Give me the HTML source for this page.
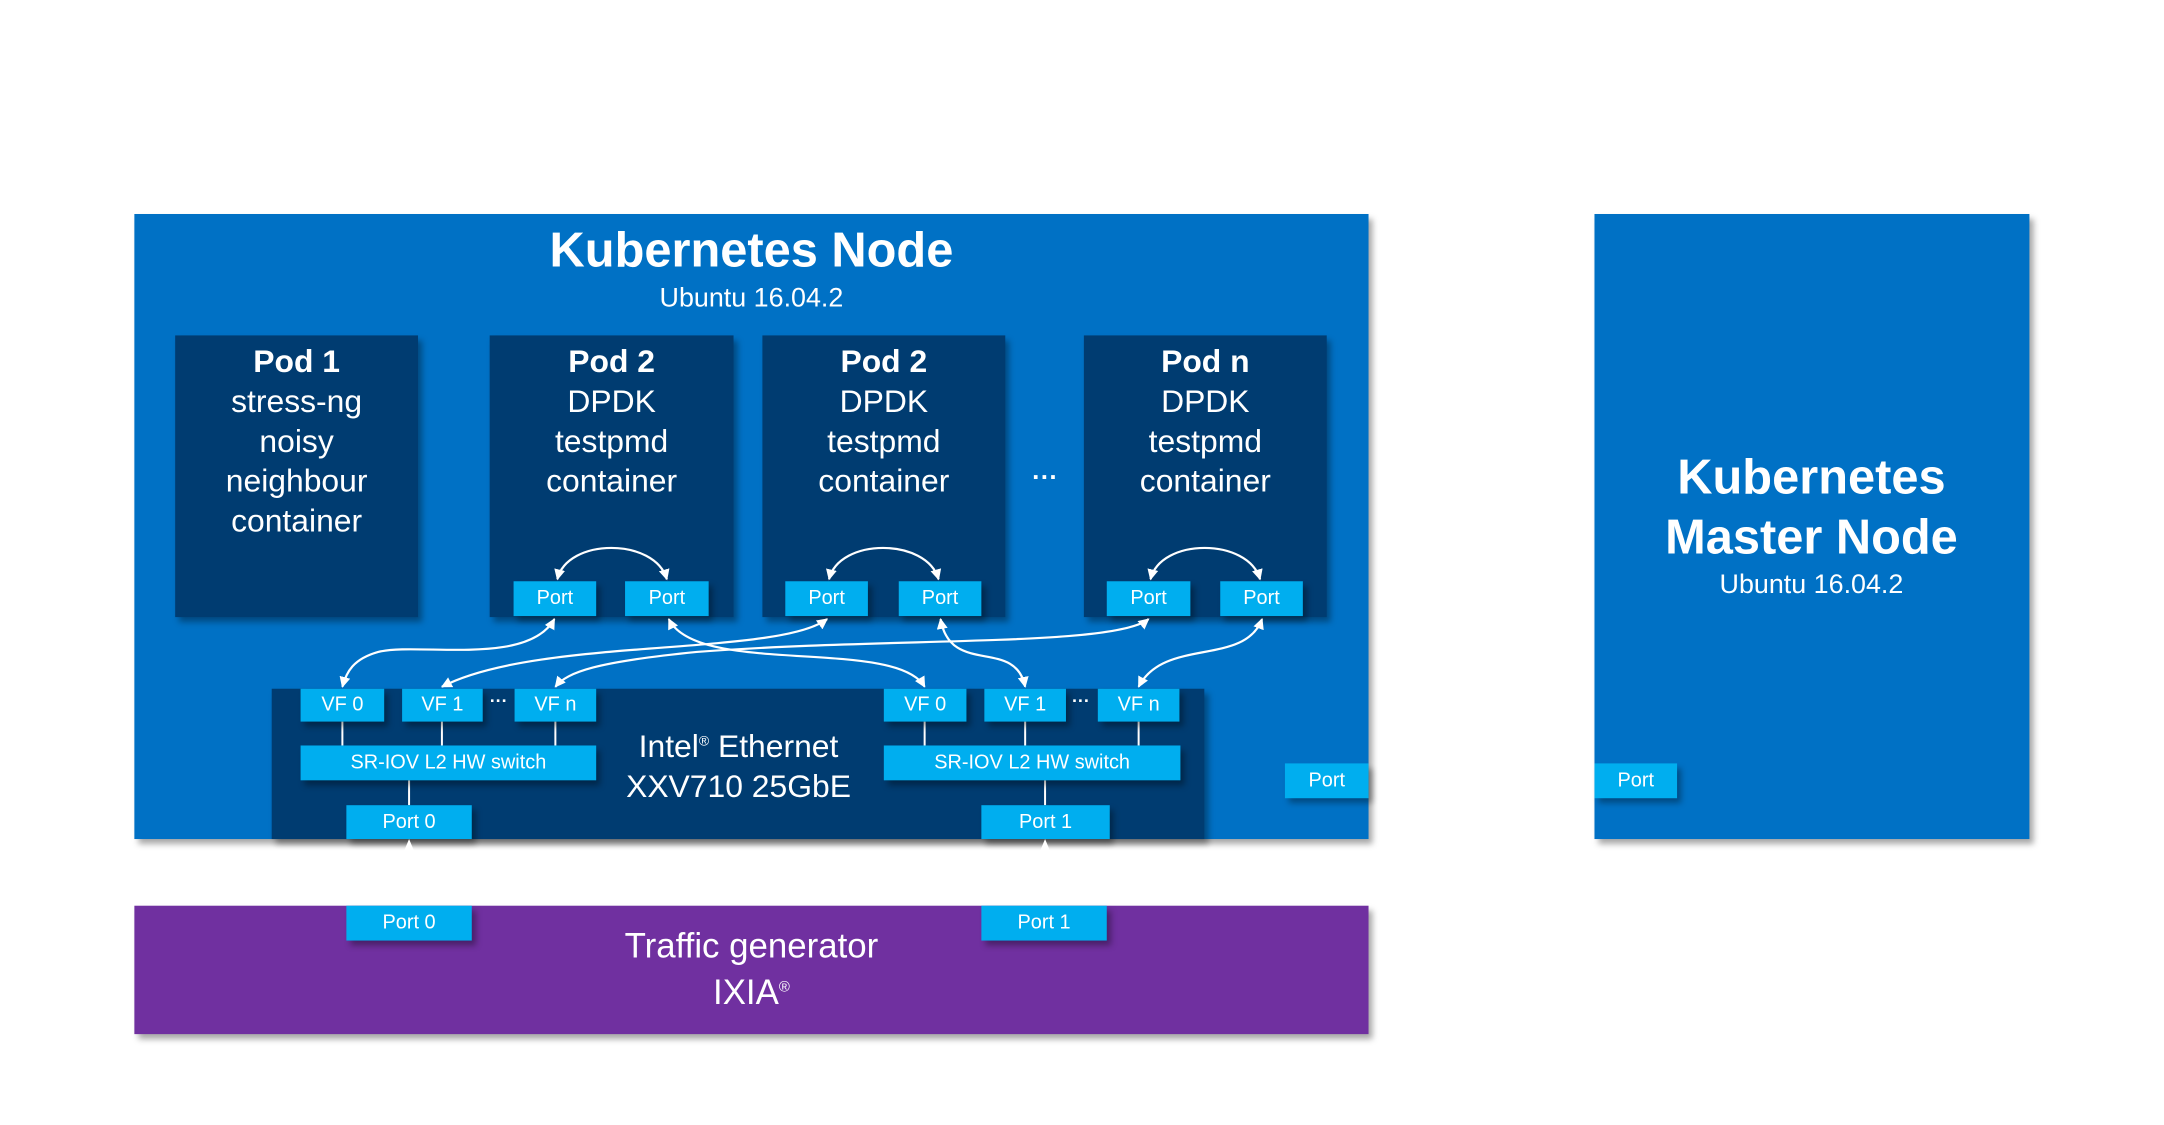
<!DOCTYPE html>
<html><head><meta charset="utf-8"><style>
body{margin:0;width:2164px;height:1125px;background:#fff;position:relative;overflow:hidden;font-family:"Liberation Sans",sans-serif;color:#fff}
#w{position:absolute;left:0;top:0;width:2164px;height:1125px;transform:scale(0.9953);transform-origin:0 0}
.b{position:absolute;box-sizing:border-box}
.sh{box-shadow:4px 5px 6px rgba(0,0,0,.35)}
.node{background:#0071c5}
.dk{background:#003c71}
.p{background:#00aeef;display:flex;align-items:center;justify-content:center;font-size:20px}
.t{position:absolute;text-align:center;white-space:nowrap;transform:translateX(-50%)}
.pod{text-align:center;font-size:32px;line-height:40px;padding-top:6px}
</style></head><body><div id="w">
<div class="b node sh" style="left:135px;top:215px;width:1240px;height:628px"></div>
<div class="t" style="left:755px;top:224px;font-size:49px;font-weight:bold">Kubernetes Node</div>
<div class="t" style="left:755px;top:284px;font-size:27px">Ubuntu 16.04.2</div>

<div class="b dk sh pod" style="left:176px;top:337px;width:244px;height:283px"><b>Pod 1</b><br>stress-ng<br>noisy<br>neighbour<br>container</div>
<div class="b dk sh pod" style="left:492px;top:337px;width:245px;height:283px"><b>Pod 2</b><br>DPDK<br>testpmd<br>container</div>
<div class="b dk sh pod" style="left:766px;top:337px;width:244px;height:283px"><b>Pod 2</b><br>DPDK<br>testpmd<br>container</div>
<div class="b dk sh pod" style="left:1089px;top:337px;width:244px;height:283px"><b>Pod n</b><br>DPDK<br>testpmd<br>container</div>
<div class="t" style="left:1050px;top:464px;font-size:26px;font-weight:bold">···</div>

<div class="b p sh" style="left:516px;top:584px;width:83px;height:35px">Port</div>
<div class="b p sh" style="left:628px;top:584px;width:84px;height:35px">Port</div>
<div class="b p sh" style="left:789px;top:584px;width:83px;height:35px">Port</div>
<div class="b p sh" style="left:903px;top:584px;width:83px;height:35px">Port</div>
<div class="b p sh" style="left:1112px;top:584px;width:84px;height:35px">Port</div>
<div class="b p sh" style="left:1226px;top:584px;width:83px;height:35px">Port</div>

<div class="b dk sh" style="left:273px;top:692px;width:937px;height:151px"></div>
<svg class="b" style="left:0;top:0" width="2164" height="1125">
<g stroke="#fff" stroke-width="2">
<line x1="344" y1="725" x2="344" y2="749"/><line x1="444" y1="725" x2="444" y2="749"/><line x1="558" y1="725" x2="558" y2="749"/>
<line x1="929" y1="725" x2="929" y2="749"/><line x1="1030" y1="725" x2="1030" y2="749"/><line x1="1144" y1="725" x2="1144" y2="749"/>
<line x1="411" y1="784" x2="411" y2="809"/><line x1="1050" y1="784" x2="1050" y2="809"/>
</g>
</svg>
<div class="b p sh" style="left:302px;top:692px;width:84px;height:33px">VF 0</div>
<div class="b p sh" style="left:404px;top:692px;width:81px;height:33px">VF 1</div>
<div class="b p sh" style="left:517px;top:692px;width:82px;height:33px">VF n</div>
<div class="b p sh" style="left:888px;top:692px;width:83px;height:33px">VF 0</div>
<div class="b p sh" style="left:989px;top:692px;width:82px;height:33px">VF 1</div>
<div class="b p sh" style="left:1103px;top:692px;width:82px;height:33px">VF n</div>
<div class="t" style="left:501px;top:694px;font-size:18px;font-weight:bold">···</div>
<div class="t" style="left:1086px;top:694px;font-size:18px;font-weight:bold">···</div>
<div class="b p sh" style="left:302px;top:749px;width:297px;height:35px">SR-IOV L2 HW switch</div>
<div class="b p sh" style="left:888px;top:749px;width:298px;height:35px">SR-IOV L2 HW switch</div>
<div class="b p sh" style="left:348px;top:809px;width:126px;height:34px">Port 0</div>
<div class="b p sh" style="left:986px;top:809px;width:129px;height:34px">Port 1</div>
<div class="t" style="left:742px;top:724px;font-size:32px;line-height:40px">Intel<sup style="font-size:14px">®</sup> Ethernet<br>XXV710 25GbE</div>
<div class="b p sh" style="left:1291px;top:767px;width:84px;height:35px">Port</div>

<div class="b node sh" style="left:1602px;top:215px;width:437px;height:628px"></div>
<div class="t" style="left:1820px;top:450px;font-size:49px;font-weight:bold;line-height:60px">Kubernetes<br>Master Node</div>
<div class="t" style="left:1820px;top:572px;font-size:27px">Ubuntu 16.04.2</div>
<div class="b p sh" style="left:1602px;top:767px;width:83px;height:35px">Port</div>

<div class="b sh" style="left:135px;top:910px;width:1240px;height:129px;background:#7030a0"></div>
<div class="b p sh" style="left:348px;top:910px;width:126px;height:35px">Port 0</div>
<div class="b p sh" style="left:986px;top:910px;width:126px;height:35px">Port 1</div>
<div class="t" style="left:755px;top:930px;font-size:35px;line-height:41px">Traffic generator<br>IXIA<sup style="font-size:15px">®</sup></div>

<svg class="b" style="left:0;top:0" width="2164" height="1125">
<defs><marker id="a" viewBox="0 0 10 10" refX="9" refY="5" markerWidth="5" markerHeight="5" orient="auto-start-reverse"><path d="M0,0L10,5L0,10z" fill="#fff"/></marker></defs>
<g fill="none" stroke="#fff" stroke-width="2.2" marker-start="url(#a)" marker-end="url(#a)">
<path d="M560,582 C570,540 658,540 670,582"/>
<path d="M833,582 C843,540 931,540 943,582"/>
<path d="M1156,582 C1166,540 1254,540 1266,582"/>
<path d="M557,622 C530,670 420,645 380,655 C355,662 348,675 344,690"/>
<path d="M672,622 C700,680 900,640 929,690"/>
<path d="M831,622 C780,660 540,640 444,690"/>
<path d="M945,622 C955,680 1020,640 1030,690"/>
<path d="M1154,622 C1120,650 900,640 700,655 C600,665 570,675 558,690"/>
<path d="M1268,622 C1250,670 1170,640 1144,690"/>
</g>
<path d="M411,843 l-5,12 h10z M1050,843 l-5,12 h10z" fill="#fff"/>
</svg>
</div></body></html>
